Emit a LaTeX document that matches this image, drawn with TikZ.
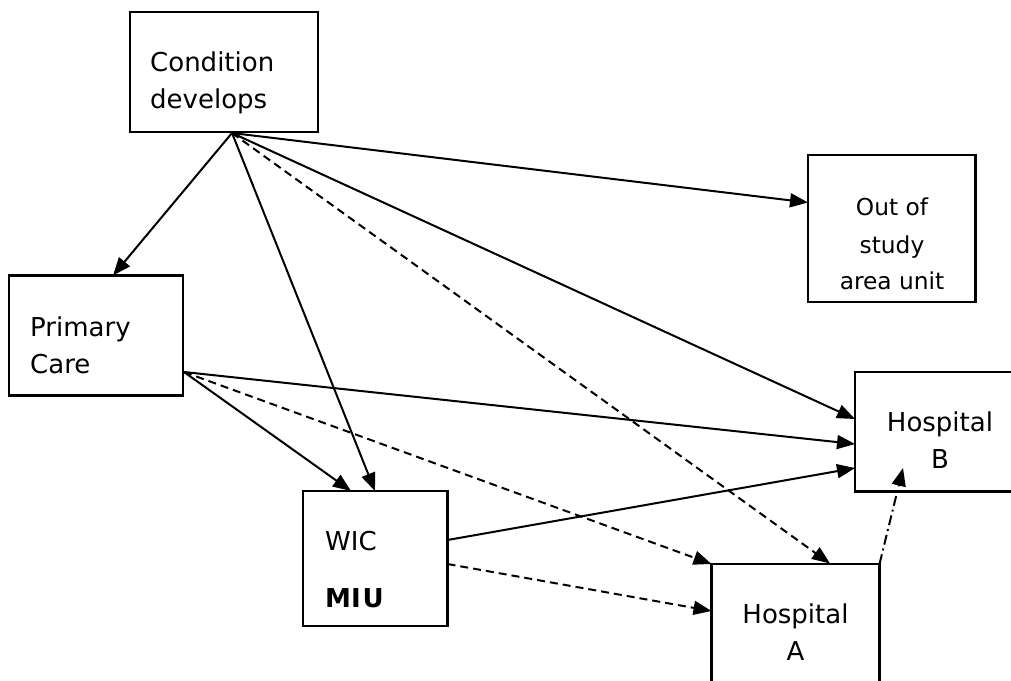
\documentclass[tikz,border=0pt]{standalone}
\usepackage{fontspec}
\setmainfont{DejaVu Sans}
\usetikzlibrary{arrows.meta}
\begin{document}
\begin{tikzpicture}[x=1pt,y=-1pt,
  box/.style={draw, rectangle, line width=2.8pt, inner sep=0pt},
  lbl/.style={inner sep=0pt, font=\fontsize{26}{31}\selectfont},
  lblsmall/.style={inner sep=0pt, font=\fontsize{23.3}{28}\selectfont},
  link/.style={line width=2pt, -{Triangle[length=18pt,width=14pt]}},
  dashlink/.style={link, dash pattern=on 8pt off 5pt},
  dotlink/.style={link, dash pattern=on 10pt off 4pt on 2pt off 4pt}]
\useasboundingbox (0,0) rectangle (1011,680);
\fill[white] (0,0) rectangle (1011,680);

% boxes
\node[box, minimum width=188pt, minimum height=120pt] (cond) at (224,72) {};
\node[box, minimum width=167.5pt, minimum height=147pt] (out) at (891.75,228.5) {};
\node[box, minimum width=174pt, minimum height=120pt] (pc) at (96,335.7) {};
\node[box, minimum width=170pt, minimum height=119.5pt] (hb) at (940,431.75) {};
\node[box, minimum width=144.5pt, minimum height=135pt] (wic) at (375.25,558.5) {};
\node[box, minimum width=168pt, minimum height=140pt] (ha) at (795.5,634) {};

% labels
\node[lbl, anchor=base west] (t1) at (150,71.5) {Condition};
\node[lbl, anchor=base west] (t2) at (150,108) {develops};
\node[lbl, anchor=base west] (t3) at (30,336) {Primary};
\node[lbl, anchor=base west] (t4) at (30,373) {Care};
\node[lblsmall, anchor=base] (t5) at (892,215.5) {Out of};
\node[lblsmall, anchor=base] (t6) at (892,253.5) {study};
\node[lblsmall, anchor=base] (t7) at (892,289.7) {area unit};
\node[lbl, anchor=base] (t8) at (940,431.5) {Hospital};
\node[lbl, anchor=base] (t9) at (940,468) {B};
\node[lbl, anchor=base west] (t10) at (325,550.5) {WIC};
\node[lbl, anchor=base west] (t11) at (325,607) {\bfseries MI\kern2ptU};
\node[lbl, anchor=base] (t12) at (795.5,623.5) {Hospital};
\node[lbl, anchor=base] (t13) at (795.5,660) {A};

% connection points
\coordinate (condS) at (232,133);
\coordinate (pcN) at (113,275.5);
\coordinate (pcE) at (184,372);
\coordinate (outW) at (808,202.5);
\coordinate (hbW1) at (855,419);
\coordinate (hbW2) at (855,444);
\coordinate (hbW3) at (855,468);
\coordinate (hbIn) at (903,468);
\coordinate (wicN1) at (351,491);
\coordinate (wicN2) at (375,491);
\coordinate (wicE1) at (447.5,540);
\coordinate (wicE2) at (447.5,564);
\coordinate (haN) at (830,563.5);
\coordinate (haNW) at (711.5,564);
\coordinate (haW) at (711.5,611);
\coordinate (haNE) at (879.5,564);

% connectors
\draw[link] (condS) -- (pcN);
\draw[link] (condS) -- (wicN2);
\draw[link] (condS) -- (outW);
\draw[link] (condS) -- (hbW1);
\draw[dashlink] (condS) -- (haN);
\draw[link] (pcE) -- (hbW2);
\draw[link] (pcE) -- (wicN1);
\draw[dashlink] (pcE) -- (haNW);
\draw[link] (wicE1) -- (hbW3);
\draw[dashlink] (wicE2) -- (haW);
\draw[dotlink] (haNE) -- (hbIn);
\end{tikzpicture}
\end{document}
